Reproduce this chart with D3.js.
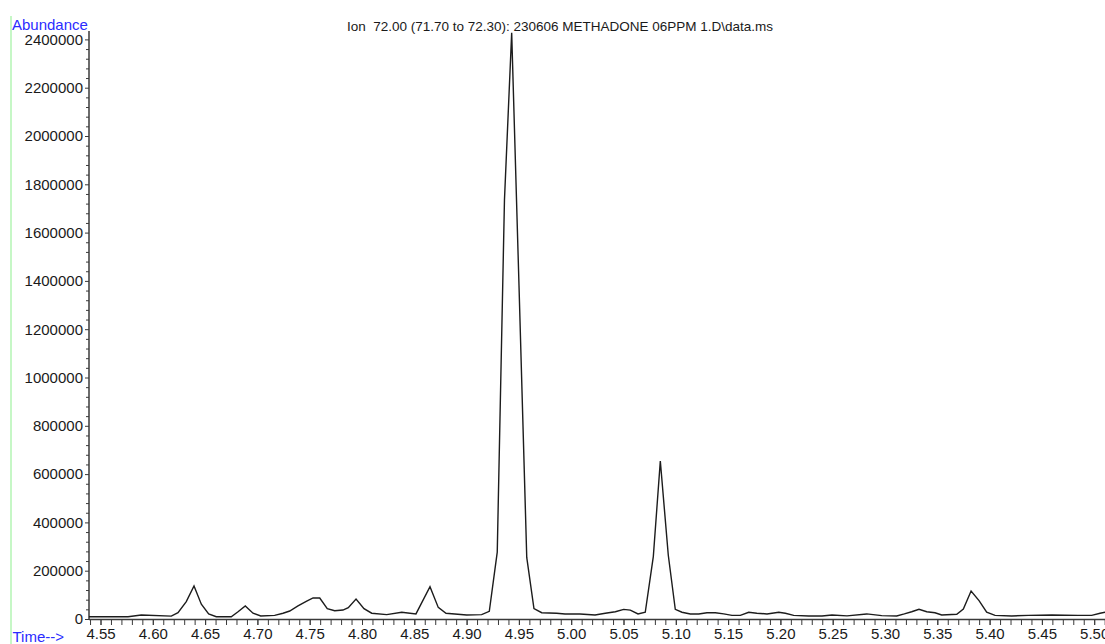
<!DOCTYPE html>
<html>
<head>
<meta charset="utf-8">
<script src="https://cdn.jsdelivr.net/npm/d3@7"></script>
<style>
  html, body { margin: 0; padding: 0; background: #ffffff; }
  svg { display: block; font-family: "Liberation Sans", Arial, sans-serif; }
  text { white-space: pre; }
</style>
</head>
<body>
<svg id="chart" width="1105" height="644"></svg>
<script>
// Extracted ion chromatogram, m/z 72.00 (retention time in minutes vs. abundance)
const chartTitle = "Ion  72.00 (71.70 to 72.30): 230606 METHADONE 06PPM 1.D\\data.ms";
const yAxisTitle = "Abundance";
const xAxisTitle = "Time-->";

const retentionTimes = [
  4.5390, 4.5763, 4.5890, 4.6177, 4.6241, 4.6320, 4.6394, 4.6464, 4.6534, 4.6607,
  4.6750, 4.6815, 4.6884, 4.6958, 4.7032, 4.7165, 4.7245, 4.7309, 4.7388, 4.7467,
  4.7532, 4.7596, 4.7668, 4.7739, 4.7818, 4.7869, 4.7943, 4.8019, 4.8093, 4.8236,
  4.8380, 4.8516, 4.8650, 4.8729, 4.8803, 4.9001, 4.9144, 4.9217, 4.9293, 4.9362,
  4.9431, 4.9501, 4.9575, 4.9644, 4.9718, 4.9861, 4.9941, 5.0084, 5.0228, 5.0326,
  5.0422, 5.0502, 5.0565, 5.0639, 5.0708, 5.0785, 5.0852, 5.0928, 5.0995, 5.1059,
  5.1139, 5.1219, 5.1298, 5.1378, 5.1458, 5.1537, 5.1617, 5.1697, 5.1775, 5.1872,
  5.1984, 5.2047, 5.2127, 5.2271, 5.2398, 5.2493, 5.2637, 5.2825, 5.2969, 5.3112,
  5.3185, 5.3255, 5.3325, 5.3399, 5.3478, 5.3542, 5.3686, 5.3749, 5.3823, 5.3899,
  5.3972, 5.4052, 5.4211, 5.4370, 5.4594, 5.4845, 5.4976, 5.5056, 5.5104
];

const abundances = [
  9500, 9500, 16500, 12000, 26000, 72000, 137000, 61000, 21000, 9500,
  9500, 30000, 54000, 24000, 12500, 15000, 24000, 33000, 54000, 73000,
  87000, 87000, 43000, 34000, 37000, 47000, 83000, 43000, 24000, 18000,
  28000, 21000, 134000, 48000, 24000, 16500, 18000, 32000, 277000, 1735000,
  2427000, 1380000, 255000, 43000, 26000, 24000, 21000, 21000, 16500, 24000,
  30000, 40000, 37000, 21000, 28000, 258000, 654000, 265000, 40000, 28000,
  21000, 21000, 26000, 26000, 21000, 15000, 15000, 28000, 24000, 21000,
  28000, 24000, 15000, 12500, 12500, 16500, 13000, 21000, 14000, 12500,
  21000, 30000, 40000, 30000, 26000, 16500, 19500, 41000, 116000, 76000,
  28000, 15000, 12500, 15000, 16500, 15000, 15000, 24000, 28000
];

const xMajorTicks = [4.55, 4.60, 4.65, 4.70, 4.75, 4.80, 4.85, 4.90, 4.95, 5.00,
                     5.05, 5.10, 5.15, 5.20, 5.25, 5.30, 5.35, 5.40, 5.45, 5.50];
const yMajorTicks = [0, 200000, 400000, 600000, 800000, 1000000, 1200000,
                     1400000, 1600000, 1800000, 2000000, 2200000, 2400000];

const svg = d3.select("#chart");
const W = 1105, H = 644;

const axisColor = "#3a3a3a";
const labelBlue = "#2b2bff";

// Scales: plot spans from the y axis to the right edge of the page
const x = d3.scaleLinear().domain([4.55, 5.50]).range([100.5, 1094.2]);
const y = d3.scaleLinear().domain([0, 2400000]).range([619, 39.4]);

const xLeft = 89, xRight = W;
const tMin = x.invert(xLeft), tMax = x.invert(xRight);

// Light green margin rule on the left
svg.append("line")
  .attr("x1", 11).attr("x2", 11).attr("y1", 16).attr("y2", H)
  .attr("stroke", "#c6f7c6").attr("stroke-width", 2);

// Y axis: major ticks with labels, minor ticks every 40000
const yMinor = d3.range(0, 2400001, 40000).filter(v => v % 200000 !== 0);
const yAxisMajor = d3.axisLeft(y).tickValues(yMajorTicks).tickSize(4).tickPadding(2)
  .tickFormat(d3.format("d"));
const yAxisMinor = d3.axisLeft(y).tickValues(yMinor).tickSize(3).tickFormat("");

const gyMinor = svg.append("g").attr("transform", `translate(${xLeft},0)`).call(yAxisMinor);
const gy = svg.append("g").attr("transform", `translate(${xLeft},0)`).call(yAxisMajor);
[gy, gyMinor].forEach(g => {
  g.select(".domain").remove();
  g.selectAll(".tick line").attr("stroke", axisColor).attr("stroke-width", 1);
});
gy.selectAll(".tick text")
  .attr("fill", "#1a1a1a")
  .style("font-size", "15px")
  .style("font-family", "'Liberation Sans', Arial, sans-serif");

svg.append("line")
  .attr("x1", xLeft).attr("x2", xLeft).attr("y1", 31).attr("y2", 620)
  .attr("stroke", axisColor).attr("stroke-width", 1.5);

// X axis: ticks every 0.01 min, labels every 0.05 min
const xAll = d3.range(Math.ceil(tMin * 100), Math.floor(tMax * 100) + 1).map(v => v / 100);
const xAxisMinor = d3.axisBottom(x).tickValues(xAll).tickSize(6).tickFormat("");
const xAxisMajor = d3.axisBottom(x).tickValues(xMajorTicks).tickSize(6).tickPadding(5)
  .tickFormat(d3.format(".2f"));

const gxMinor = svg.append("g").attr("transform", "translate(0,619)").call(xAxisMinor);
const gx = svg.append("g").attr("transform", "translate(0,619)").call(xAxisMajor);
[gx, gxMinor].forEach(g => {
  g.select(".domain").remove();
  g.selectAll(".tick line").attr("stroke", axisColor).attr("stroke-width", 1);
});
gx.selectAll(".tick text")
  .attr("fill", "#1a1a1a")
  .attr("dy", "0.6em")
  .style("font-size", "15px")
  .style("font-family", "'Liberation Sans', Arial, sans-serif");

svg.append("line")
  .attr("x1", xLeft).attr("x2", xRight).attr("y1", 619.5).attr("y2", 619.5)
  .attr("stroke", axisColor).attr("stroke-width", 1.5);

// Chromatogram trace
const points = retentionTimes.map((t, i) => [t, abundances[i]]);
const line = d3.line().x(d => x(d[0])).y(d => y(d[1]));
svg.append("path")
  .datum(points)
  .attr("fill", "none")
  .attr("stroke", "#1c1c1c")
  .attr("stroke-width", 1.4)
  .attr("stroke-linejoin", "miter")
  .attr("d", line);

// Titles
svg.append("text")
  .attr("x", 12).attr("y", 29.5)
  .attr("fill", labelBlue)
  .style("font-size", "15px")
  .text(yAxisTitle);

svg.append("text")
  .attr("x", 12.5).attr("y", 642)
  .attr("fill", labelBlue)
  .style("font-size", "15px")
  .text(xAxisTitle);

svg.append("text")
  .attr("x", 560).attr("y", 30.5)
  .attr("text-anchor", "middle")
  .attr("fill", "#1a1a1a")
  .style("font-size", "13.5px")
  .text(chartTitle);
</script>
</body>
</html>
